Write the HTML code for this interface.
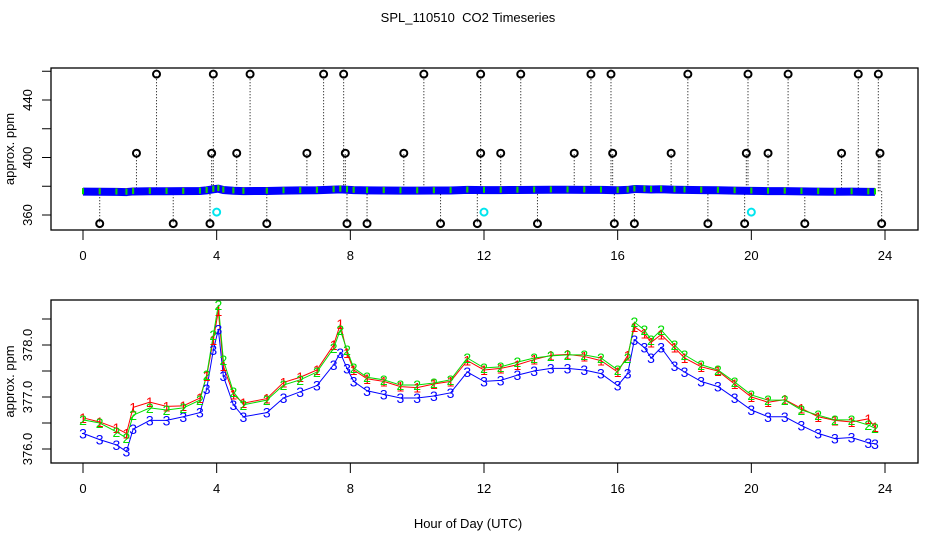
<!DOCTYPE html>
<html><head><meta charset="utf-8">
<style>
html,body{margin:0;padding:0;background:#fff;}
svg{display:block;font-family:"Liberation Sans",sans-serif;}
</style></head>
<body>
<svg id="chart" width="936" height="540" viewBox="0 0 936 540">
<rect x="0" y="0" width="936" height="540" fill="#fff"/>
<text x="468" y="22" font-size="13" text-anchor="middle" xml:space="preserve">SPL_110510&#160; CO2 Timeseries</text>
<text x="468" y="528" font-size="13" text-anchor="middle">Hour of Day (UTC)</text>
<g id="top"></g>
<g id="bot"></g>
</svg>
<script>
const hours = [0,0.5,1.0,1.3,1.5,2.0,2.5,3.0,3.5,3.7,3.9,4.05,4.2,4.5,4.8,5.5,6.0,6.5,7.0,7.5,7.7,7.9,8.1,8.5,9.0,9.5,10.0,10.5,11.0,11.5,12.0,12.5,13.0,13.5,14.0,14.5,15.0,15.5,16.0,16.3,16.5,16.8,17.0,17.3,17.7,18.0,18.5,19.0,19.5,20.0,20.5,21.0,21.5,22.0,22.5,23.0,23.5,23.7];
const series2 = [376.56,376.50,376.33,376.21,376.65,376.79,376.75,376.79,376.94,377.42,378.19,378.77,377.71,377.10,376.85,376.94,377.23,377.33,377.48,377.94,378.29,377.90,377.56,377.38,377.33,377.23,377.23,377.27,377.33,377.75,377.56,377.58,377.67,377.75,377.79,377.81,377.81,377.75,377.52,377.75,378.44,378.29,378.10,378.29,378.00,377.81,377.62,377.52,377.29,377.04,376.94,376.94,376.75,376.65,376.56,376.56,376.46,376.40];
const series1 = [376.60,376.52,376.40,376.30,376.80,376.90,376.82,376.83,376.98,377.40,378.10,378.65,377.60,377.05,376.88,376.97,377.28,377.38,377.52,378.00,378.40,377.85,377.52,377.35,377.30,377.20,377.18,377.25,377.30,377.70,377.52,377.55,377.62,377.72,377.80,377.82,377.78,377.70,377.48,377.80,378.35,378.22,378.05,378.20,377.95,377.75,377.58,377.50,377.25,377.00,376.90,376.95,376.78,376.62,376.55,376.52,376.58,376.42];
const series3 = [376.30,376.18,376.08,375.95,376.38,376.55,376.55,376.62,376.70,377.15,377.90,378.30,377.40,376.85,376.62,376.70,376.98,377.10,377.22,377.62,377.85,377.55,377.30,377.12,377.05,376.98,376.98,377.02,377.08,377.48,377.30,377.32,377.42,377.50,377.55,377.55,377.52,377.45,377.22,377.45,378.10,377.95,377.75,377.95,377.60,377.48,377.30,377.20,376.98,376.75,376.62,376.62,376.45,376.30,376.20,376.22,376.12,376.10];
const outHours = [2.2,3.9,5.0,7.2,7.8,10.2,11.9,13.1,15.2,15.8,18.1,19.9,21.1,23.2,23.8,1.6,3.85,4.6,6.7,7.85,9.6,11.9,12.5,14.7,15.85,17.6,19.85,20.5,22.7,23.85,0.5,2.7,3.8,5.5,7.9,8.5,10.7,11.8,13.6,15.9,16.5,18.7,19.8,21.6,23.9];
const outVals = [458,458,458,458,458,458,458,458,458,458,458,458,458,458,458,403,403,403,403,403,403,403,403,403,403,403,403,403,403,403,354,354,354,354,354,354,354,354,354,354,354,354,354,354,354];
const cyanHours = [4.0,12.0,20.0];
const cyanVals = [362,362,362];
const xTicks = [0,4,8,12,16,20,24];
const topTicks = [360,380,400,420,440,460];
const topLabels = ["360","","400","","440",""];
const botTicks = [376.0,376.5,377.0,377.5,378.0,378.5];
const botLabels = ["376.0","","377.0","","378.0",""];

const NS="http://www.w3.org/2000/svg";
function mk(parent,tag,attrs,txt){const e=document.createElementNS(NS,tag);for(const k in attrs)e.setAttribute(k,attrs[k]);if(txt!==undefined)e.textContent=txt;parent.appendChild(e);return e;}
const X = h => 83 + h*(885-83)/24;
const Ytop = v => 215 - (v-360)*(215-100)/80;
const Ybot = v => 449 - (v-376)*52;

function frame(g,top,bottom,ticks,labels,Y,name){
  const r=mk(g,'rect',{x:51,y:top,width:867,height:bottom-top,fill:'none',stroke:'#000','stroke-width':1.3});
  
  
  xTicks.forEach(t=>{
    const l=mk(g,'line',{x1:X(t),x2:X(t),y1:bottom,y2:bottom+10,stroke:'#000','stroke-width':1});
    
    
    const tx=mk(g,'text',{x:X(t),y:bottom+30,'font-size':13,'text-anchor':'middle'},String(t));
    
    
  });
  ticks.forEach((t,i)=>{
    const y=Y(t);
    const l=mk(g,'line',{x1:42,x2:51,y1:y,y2:y,stroke:'#000','stroke-width':1});
    
    
    if(labels[i]){
      const tx=mk(g,'text',{x:0,y:0,'font-size':13,'text-anchor':'middle',transform:`translate(32,${y}) rotate(-90)`},labels[i]);
      
      
    }
  });
  const yl=mk(g,'text',{x:0,y:0,'font-size':13,'text-anchor':'middle',transform:`translate(14,${(top+bottom)/2}) rotate(-90)`},'approx. ppm');
  
  
}

// TOP PANEL
const gt=document.getElementById('top');
frame(gt,68,230,topTicks,topLabels,Ytop,'top');
outHours.forEach((h,i)=>{
  const l=mk(gt,'line',{x1:X(h),x2:X(h),y1:Ytop(376.5),y2:Ytop(outVals[i]),stroke:'#000','stroke-width':1,'stroke-dasharray':'1,2'});
  
  
});
const bandPts=hours.map((h,i)=>X(h)+','+Ytop(series3[i])).join(' ');
const band=mk(gt,'polyline',{points:bandPts,fill:'none',stroke:'#0000ff','stroke-width':8});


[[series1,'#ff0000'],[series2,'#00dd00']].forEach(([s,c],k)=>{
  hours.forEach((h,i)=>{
    const r=mk(gt,'rect',{x:X(h)-1,y:Ytop(s[i])-3,width:2,height:6,fill:c});
    
    
  });
});
outHours.forEach((h,i)=>{
  const c=mk(gt,'circle',{cx:X(h),cy:Ytop(outVals[i]),r:3.5,fill:'none',stroke:'#000','stroke-width':2});
  
  
});
cyanHours.forEach((h,i)=>{
  const c=mk(gt,'circle',{cx:X(h),cy:Ytop(cyanVals[i]),r:3.5,fill:'none',stroke:'#00e5ee','stroke-width':2});
  
  
});

// BOTTOM PANEL
const gb=document.getElementById('bot');
frame(gb,300,463,botTicks,botLabels,Ybot,'bottom');
const sers=[[series3,'#0000ff','3'],[series1,'#ff0000','1'],[series2,'#00dd00','2']];
sers.forEach(([s,c,lab])=>{
  const pts=hours.map((h,i)=>X(h)+','+Ybot(s[i])).join(' ');
  const pl=mk(gb,'polyline',{points:pts,fill:'none',stroke:c,'stroke-width':1});
  
  
});
sers.forEach(([s,c,lab])=>{
  hours.forEach((h,i)=>{
    const t=mk(gb,'text',{x:X(h),y:Ybot(s[i])+5,'font-size':14,'text-anchor':'middle',fill:c},lab);
    
    
  });
});
</script>
</body></html>
